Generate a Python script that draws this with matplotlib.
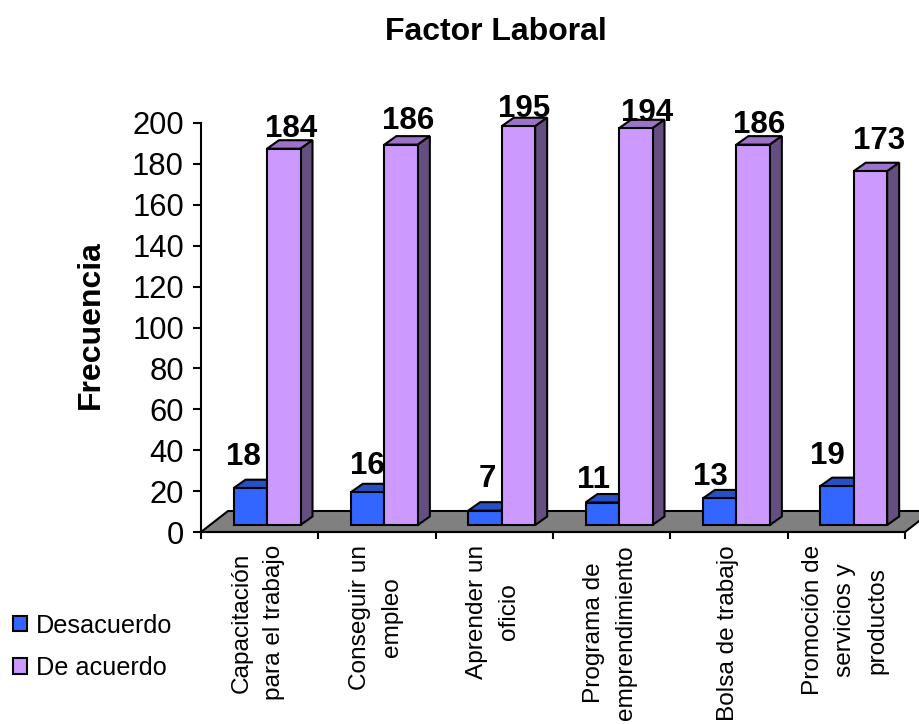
import matplotlib
matplotlib.use("Agg")
import matplotlib.pyplot as plt
import numpy as np
from matplotlib.patches import Patch, Polygon

plt.rcParams["font.family"] = ["Liberation Sans", "DejaVu Sans"]

categories = [
    "Capacitación\npara el trabajo",
    "Conseguir un\nempleo",
    "Aprender un\noficio",
    "Programa de\nemprendimiento",
    "Bolsa de trabajo",
    "Promoción de\nservicios y\nproductos",
]
desacuerdo = [18, 16, 7, 11, 13, 19]
de_acuerdo = [184, 186, 195, 194, 186, 173]
y_ticks = list(range(0, 201, 20))

# Label nudges in pixels (dx from bar centre, baseline height above bar top)
desacuerdo_nudge = [(-7, 23), (0, 18), (2, 24), (-9, 15), (-9, 13), (-10, 22)]
de_acuerdo_nudge = [(7, 12), (7, 16), (6, 9), (11, 7), (6, 12), (9, 22)]

W, H = 919, 724
AX_L, AX_R, AX_T, AX_B = 201, 905, 123, 532
DPI = 100

BLUE, BLUE_TOP = "#3366FF", "#2650C4"
PURPLE, PURPLE_TOP, PURPLE_SIDE = "#CC99FF", "#9C73C8", "#654F80"
FLOOR = "#808080"

fig = plt.figure(figsize=(W / DPI, H / DPI), dpi=DPI, facecolor="white")
ax = fig.add_axes([AX_L / W, 1 - AX_B / H, (AX_R - AX_L) / W, (AX_B - AX_T) / H])
ax.set_xlim(0, 6)
ax.set_ylim(0, 200)

px_x = 6 / (AX_R - AX_L)      # data units per pixel, horizontally
px_y = 200 / (AX_B - AX_T)    # data units per pixel, vertically
lw = 1.5

# Floor of the pseudo-3D plot area
floor_dx, floor_dy = 27 * px_x, 21 * px_y
ax.add_patch(Polygon([(0, 0), (6, 0), (6 + floor_dx, floor_dy), (floor_dx, floor_dy)],
                     closed=True, fc=FLOOR, ec="black", lw=lw, clip_on=False, zorder=1))

base = 7 * px_y               # bars stand slightly inside the floor
bar_w = 33.5 * px_x
start = 32.5 * px_x
depth_dx, depth_dy = 12 * px_x, 8.5 * px_y
x = np.arange(len(categories))


def depth_faces(left, value, top_color, side_color, z):
    """Top and right faces that give a bar its depth."""
    right, top = left + bar_w, base + value
    ax.add_patch(Polygon([(left, top), (right, top),
                          (right + depth_dx, top + depth_dy), (left + depth_dx, top + depth_dy)],
                         closed=True, fc=top_color, ec="black", lw=lw, clip_on=False, zorder=z))
    ax.add_patch(Polygon([(right, base), (right + depth_dx, base + depth_dy),
                          (right + depth_dx, top + depth_dy), (right, top)],
                         closed=True, fc=side_color, ec="black", lw=lw, clip_on=False, zorder=z))


left_a = x + start
left_b = left_a + bar_w
for la, lb, va, vb in zip(left_a, left_b, desacuerdo, de_acuerdo):
    depth_faces(la, va, BLUE_TOP, BLUE_TOP, 2)
    depth_faces(lb, vb, PURPLE_TOP, PURPLE_SIDE, 4)
ax.bar(left_a, desacuerdo, bar_w, bottom=base, align="edge", color=BLUE,
       edgecolor="black", linewidth=lw, zorder=3, clip_on=False)
ax.bar(left_b, de_acuerdo, bar_w, bottom=base, align="edge", color=PURPLE,
       edgecolor="black", linewidth=lw, zorder=5, clip_on=False)

# Value labels
for lefts, values, nudges in ((left_a, desacuerdo, desacuerdo_nudge),
                              (left_b, de_acuerdo, de_acuerdo_nudge)):
    for lx, v, (dx, dy) in zip(lefts, values, nudges):
        ax.annotate(str(v), (lx + bar_w / 2, base + v),
                    xytext=(dx * 72 / DPI, dy * 72 / DPI), textcoords="offset points",
                    ha="center", va="baseline", fontsize=22.5, fontweight="bold",
                    color="black", zorder=6, annotation_clip=False)

# Axes
for side in ("top", "right"):
    ax.spines[side].set_visible(False)
for side in ("left", "bottom"):
    ax.spines[side].set_linewidth(lw)
ax.set_yticks(y_ticks)
ax.tick_params(axis="y", length=5.8, width=lw, labelsize=22.3, pad=6.5)
ax.set_xticks(np.arange(len(categories) + 1))
ax.tick_params(axis="x", length=5, width=lw, labelbottom=False)

for i, label in enumerate(categories):
    ax.annotate(label, (i + 0.5, 0), xytext=(-1, -(545 - AX_B) * 72 / DPI),
                textcoords="offset points", rotation=90, ha="center", va="top",
                multialignment="center", fontsize=17.6, linespacing=1.6,
                annotation_clip=False)

fig.text(496 / W, 1 - 32 / H, "Factor Laboral", ha="center", va="center",
         fontsize=23, fontweight="bold")
fig.text(91 / W, 1 - 325 / H, "Frecuencia", rotation=90, ha="center", va="center",
         fontsize=23, fontweight="bold")

handles = [Patch(fc=BLUE, ec="black", lw=lw, label="Desacuerdo"),
           Patch(fc=PURPLE, ec="black", lw=lw, label="De acuerdo")]
fig.legend(handles=handles, loc="lower left", bbox_to_anchor=(13 / W, 1 - 680 / H),
           frameon=False, fontsize=18.2, handlelength=0.55, handleheight=0.55,
           handletextpad=0.36, labelspacing=0.72, borderaxespad=0, borderpad=0)

fig.savefig("out.png", dpi=DPI, facecolor="white")
